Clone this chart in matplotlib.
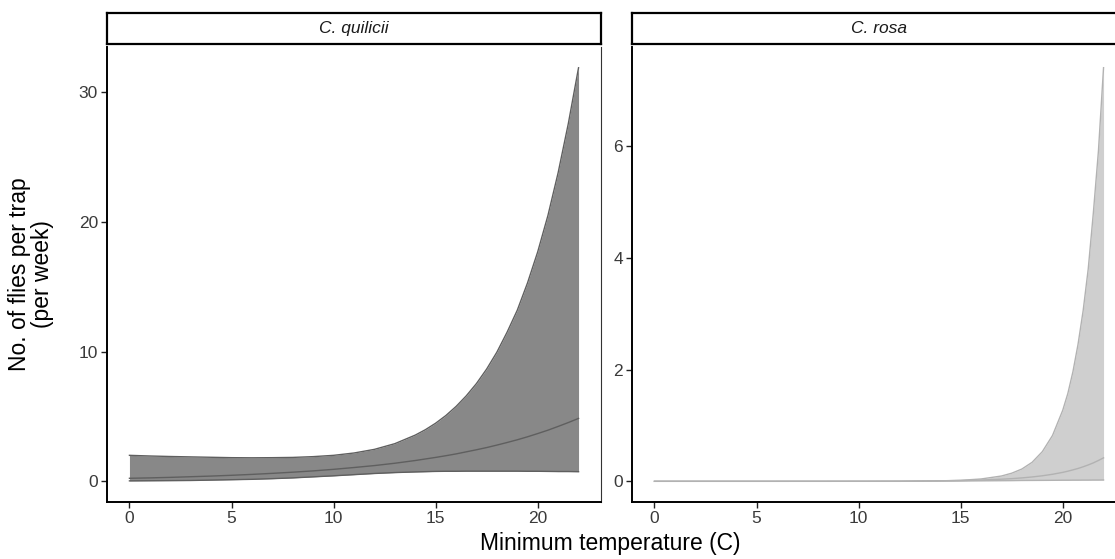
import matplotlib
matplotlib.use("Agg")
import matplotlib.pyplot as plt

plt.rcParams['font.family'] = ['Liberation Sans', 'DejaVu Sans']

# C. quilicii: predicted flies per trap with confidence band
quil_temp = [0, 1, 2, 3, 4, 5, 6, 7, 8, 9, 10, 11, 12, 13, 14, 14.5, 15, 15.5, 16, 16.5,
             17, 17.5, 18, 18.5, 19, 19.5, 20, 20.5, 21, 21.5, 22]
quil_mean = [0.23, 0.26, 0.30, 0.35, 0.40, 0.46, 0.53, 0.61, 0.70, 0.80, 0.92, 1.06, 1.21,
             1.39, 1.60, 1.72, 1.84, 1.97, 2.11, 2.27, 2.43, 2.60, 2.79, 2.99, 3.20, 3.43,
             3.68, 3.94, 4.23, 4.53, 4.85]
quil_upper = [2.00, 1.95, 1.91, 1.88, 1.85, 1.82, 1.81, 1.82, 1.84, 1.90, 2.00, 2.18, 2.46,
              2.90, 3.56, 3.98, 4.48, 5.07, 5.77, 6.59, 7.54, 8.66, 9.96, 11.5, 13.2, 15.3,
              17.7, 20.5, 23.8, 27.6, 31.9]
quil_lower = [0.03, 0.04, 0.05, 0.06, 0.09, 0.12, 0.15, 0.20, 0.26, 0.34, 0.42, 0.51, 0.60,
              0.67, 0.72, 0.74, 0.76, 0.77, 0.77, 0.78, 0.78, 0.78, 0.78, 0.78, 0.78, 0.77,
              0.77, 0.76, 0.75, 0.75, 0.74]

# C. rosa
rosa_temp = [0, 2, 4, 6, 8, 10, 12, 14, 15, 16, 17, 17.5, 18, 18.5, 19, 19.5, 20, 20.25,
             20.5, 20.75, 21, 21.25, 21.5, 21.75, 22]
rosa_mean = [0, 0, 0, 0, 0.0005, 0.001, 0.003, 0.009, 0.014, 0.023, 0.038, 0.048, 0.061,
             0.078, 0.099, 0.126, 0.16, 0.181, 0.205, 0.23, 0.26, 0.293, 0.33, 0.373, 0.42]
rosa_upper = [0, 0, 0, 0, 0.0001, 0.0003, 0.0015, 0.008, 0.018, 0.042, 0.095, 0.145, 0.22,
              0.34, 0.53, 0.82, 1.27, 1.57, 1.96, 2.45, 3.05, 3.80, 4.80, 5.91, 7.40]
rosa_lower = [0, 0, 0, 0, 0, 0, 0, 0.005, 0.007, 0.01, 0.012, 0.013, 0.015, 0.016, 0.017,
              0.018, 0.02, 0.02, 0.021, 0.021, 0.022, 0.022, 0.023, 0.023, 0.024]

panel_titles = ['C. quilicii', 'C. rosa']
quil_yticks = [0, 10, 20, 30]
rosa_yticks = [0, 2, 4, 6]
x_ticks = [0, 5, 10, 15, 20]

fig = plt.figure(figsize=(11.15, 5.59), dpi=100)

W, H = 1115, 559


def px_box(x0, y0, x1, y1):
    # pixel box (top-left origin) -> figure fraction rect
    return [x0 / W, 1 - y1 / H, (x1 - x0) / W, (y1 - y0) / H]


panels = [
    (px_box(107, 47, 601, 502), px_box(107, 13, 601, 44), quil_temp, quil_mean, quil_upper,
     quil_lower, '#888888', '#5f5f5f', quil_yticks, (-1.6, 33.5)),
    (px_box(632, 47, 1126, 502), px_box(632, 13, 1126, 44), rosa_temp, rosa_mean, rosa_upper,
     rosa_lower, '#cfcfcf', '#b2b2b2', rosa_yticks, (-0.37, 7.77)),
]

for i, (rect, srect, xs, mean, upper, lower, fill_col, line_col, yticks, ylim) in enumerate(panels):
    ax = fig.add_axes(rect)
    ax.fill_between(xs, lower, upper, color=fill_col, linewidth=0)
    ax.plot(xs, upper, color=line_col, lw=1.0)
    ax.plot(xs, lower, color=line_col, lw=1.0)
    ax.plot(xs, mean, color=line_col, lw=1.0)

    ax.set_xlim(-1.1, 23.1)
    ax.set_ylim(*ylim)
    ax.set_xticks(x_ticks)
    ax.set_yticks(yticks)
    ax.tick_params(axis='both', length=4.5, width=1.0, color='#222222',
                   labelsize=12.5, labelcolor='#3a3a3a', pad=2)

    for side in ['left', 'bottom']:
        ax.spines[side].set_linewidth(1.4)
        ax.spines[side].set_color('black')
    ax.spines['top'].set_visible(False)
    ax.spines['right'].set_linewidth(0.8)
    ax.spines['right'].set_color('#333333')

    # facet strip
    sax = fig.add_axes(srect)
    sax.set_xticks([])
    sax.set_yticks([])
    for sp in sax.spines.values():
        sp.set_linewidth(1.6)
        sp.set_color('black')
    sax.text(0.5, 0.5, panel_titles[i], ha='center', va='center', fontsize=12.5,
             style='italic', color='#1a1a1a', transform=sax.transAxes)

fig.text(0.547, 0.027, 'Minimum temperature (C)', ha='center', va='center', fontsize=16.5)
fig.text(0.028, 0.51, 'No. of flies per trap\n(per week)', ha='center', va='center',
         rotation=90, fontsize=16.5, linespacing=1.0)

fig.savefig('out.png', dpi=100)
